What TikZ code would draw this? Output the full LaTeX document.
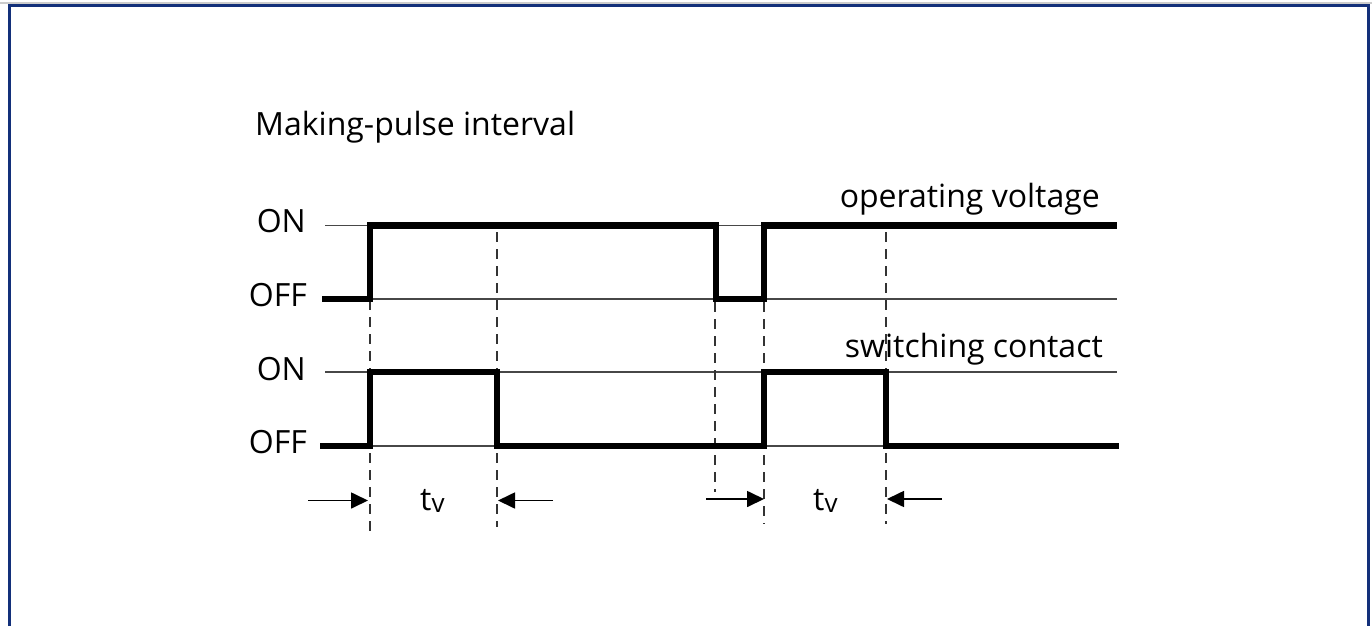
\documentclass[tikz,border=0pt]{standalone}
\usepackage{fontspec}
\setmainfont{Open Sans}
\usetikzlibrary{arrows.meta}
\definecolor{framenavy}{HTML}{13307A}
\begin{document}
\begin{tikzpicture}[x=1pt,y=-1pt,
  sig/.style={line width=6.2pt, line join=miter, line cap=butt},
  lvl/.style={line width=1.8pt, black!72},
  guide/.style={line width=1.6pt, black!80, dash pattern=on 10pt off 7pt},
  lab/.style={font=\fontsize{32}{38}\selectfont, inner sep=0pt},
  arr/.style={line width=1.7pt, -{Triangle[length=17pt,width=16pt]}}]
\useasboundingbox (0,0) rectangle (1372,626);
\fill[white] (0,0) rectangle (1372,626);
\draw[black!20, line width=1.5pt] (0,3) -- (1372,3);
\draw[framenavy, line width=3pt] (9,626) -- (9,5.5) -- (1368.5,5.5) -- (1368.5,626);

% texts
\node[lab, anchor=base west] (title) at (255,135) {Making-pulse interval};
\node[lab, anchor=base east] (on1) at (306,232) {ON};
\node[lab, anchor=base east] (off1) at (307,306) {OFF};
\node[lab, anchor=base east] (on2) at (306,380) {ON};
\node[lab, anchor=base east] (off2) at (307,453) {OFF};
\node[lab, anchor=base east] (opv) at (1100,207) {operating voltage};
\node[lab, anchor=base east] (swc) at (1103,357) {switching contact};
\node[lab, anchor=base west] (tv1) at (420,510) {t\raisebox{-2pt}{\fontsize{26}{30}\selectfont v}};
\node[lab, anchor=base west] (tv2) at (813,510) {t\raisebox{-2pt}{\fontsize{26}{30}\selectfont v}};

% level lines
\draw[lvl] (325,225.5) -- (1117,225.5);
\draw[lvl] (325,299) -- (1117,299);
\draw[lvl] (325,372) -- (1117,372);
\draw[lvl] (325,446) -- (1117,446);

% guides
\draw[guide] (370,300) -- (370,532);
\draw[guide] (497,232) -- (497,527);
\draw[guide] (715,302) -- (715,492);
\draw[guide] (764,302) -- (764,524);
\draw[guide] (886,232) -- (886,524);

% signals
\draw[sig] (322,299) -- (370,299) -- (370,225.5) -- (716,225.5) -- (716,299)
  -- (764,299) -- (764,225.5) -- (1117,225.5);
\draw[sig] (320,446) -- (370,446) -- (370,372) -- (497,372) -- (497,446)
  -- (764,446) -- (764,372) -- (886,372) -- (886,446) -- (1119,446);

% arrows
\coordinate (a1s) at (308,500.5);
\coordinate (a1e) at (368,500.5);
\coordinate (a2s) at (553,500.5);
\coordinate (a2e) at (498,500.5);
\coordinate (a3s) at (706,499);
\coordinate (a3e) at (764,499);
\coordinate (a4s) at (942,499);
\coordinate (a4e) at (887,499);
\draw[arr] (a1s) -- (a1e);
\draw[arr] (a2s) -- (a2e);
\draw[arr] (a3s) -- (a3e);
\draw[arr] (a4s) -- (a4e);
\end{tikzpicture}
\end{document}
